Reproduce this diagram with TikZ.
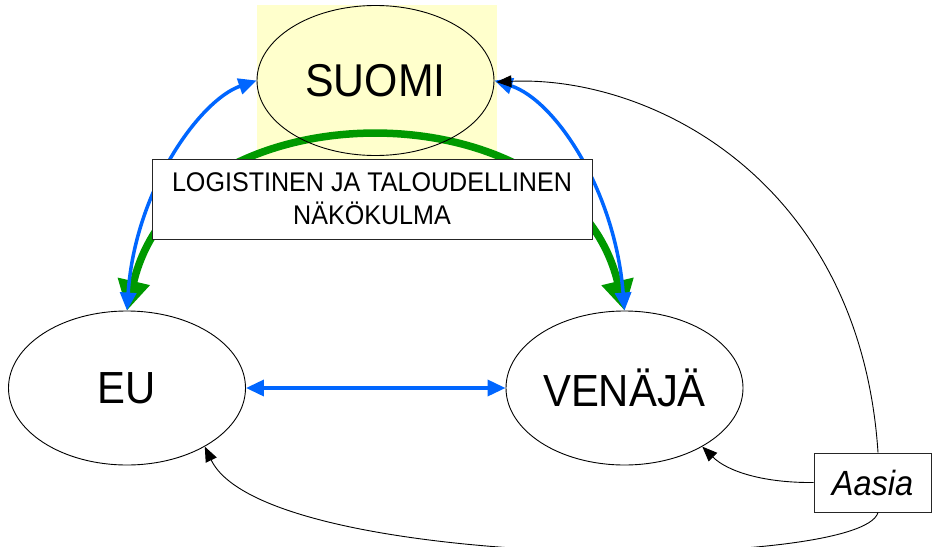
\documentclass[tikz,border=0pt]{standalone}
\usepackage{fontspec}
\setmainfont[FakeStretch=0.93]{Liberation Sans}
\usetikzlibrary{shapes.geometric,arrows.meta}
\definecolor{suomiyellow}{HTML}{FFFFCC}
\definecolor{linkblue}{HTML}{0066FF}
\definecolor{flowgreen}{HTML}{009900}
\begin{document}
\begin{tikzpicture}[x=1pt,y=-1pt,
  country/.style={ellipse, draw=black, line width=0.9pt, inner sep=0pt,
    minimum width=237pt, minimum height=154pt, font=\fontsize{45}{50}\selectfont},
  labelbox/.style={rectangle, draw=black!85, line width=0.9pt, fill=white,
    inner sep=0pt, align=center},
  bluelink/.style={linkblue, line width=3.5pt,
    {Triangle[length=18pt,width=16pt]}-{Triangle[length=18pt,width=16pt]}},
  greenflow/.style={flowgreen, line width=7.5pt,
    {Triangle[length=30pt,width=31pt]}-{Triangle[length=30pt,width=31pt]}},
  tradelink/.style={black, line width=0.9pt, -{Triangle[length=15pt,width=12pt]}}
]
\useasboundingbox (0,0) rectangle (933,546);

% highlight behind Finland
\fill[suomiyellow] (257,5) rectangle (497,200);

% the three countries
\node[country, minimum height=150pt, draw=none, font=\fontsize{46}{50}\selectfont]
  (suomi) at (375.5,80.5) {SUOMI};
\node[country] (eu) at (127,388) {EU};
\node[country] (venaja) at (624.5,388) {VENÄJÄ};

% Asia box
\node[labelbox, minimum width=117pt, minimum height=59pt,
  font=\fontsize{35}{40}\selectfont\itshape] (aasia) at (872.5,482.5) {Aasia};

% green flow between EU and Russia over Finland
\draw[greenflow] (eu.north) .. controls (180,83) and (570,83) .. (venaja.north);

% blue links
\draw[bluelink] (eu.north) .. controls (135,190) and (200,100) .. (suomi.west);
\draw[bluelink] (venaja.north) .. controls (615,190) and (555,100) .. (suomi.east);
\draw[bluelink] (eu.east) -- (venaja.west);

% outline of Finland drawn above the flows
\draw[line width=0.9pt] (suomi.center) ellipse [x radius=118.5pt, y radius=75pt];

% links from Asia
\draw[tradelink] ([xshift=5.5pt]aasia.north) .. controls (860,180) and (650,75) .. ([xshift=2pt,yshift=-1.5pt]suomi.east);
\draw[tradelink] (aasia.west) .. controls (765,483) and (728,472) .. (venaja.-37);
\draw[tradelink] ([xshift=5.5pt]aasia.south) .. controls (862,572) and (265,572) .. (eu.-37);

% caption box
\node[labelbox, minimum width=440pt, minimum height=80pt,
  font=\fontsize{27}{33}\selectfont] (caption) at (372,199)
  {LOGISTINEN JA TALOUDELLINEN\\NÄKÖKULMA};
\end{tikzpicture}
\end{document}
